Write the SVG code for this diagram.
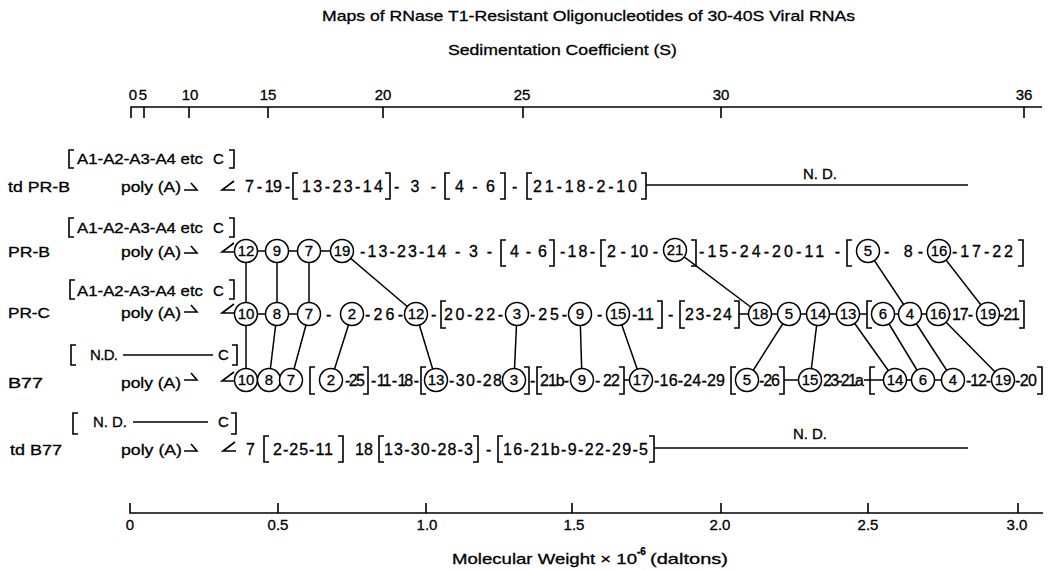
<svg xmlns="http://www.w3.org/2000/svg" width="1053" height="570" viewBox="0 0 1053 570">
<style>
text{font-family:"Liberation Sans",Arial,Helvetica,sans-serif;fill:#000;stroke:#000;stroke-width:0.3px}
.s{font-size:16px}
.lb{font-size:15px}
.ax{font-size:15px;text-anchor:middle}
.nd{font-size:14px}
.n circle{fill:#fff;stroke:#000;stroke-width:1.5}
.n text{font-size:15px;text-anchor:middle}
.br,.k{fill:none;stroke:#000;stroke-width:1.6}
#connectors line{stroke:#000;stroke-width:1.5}
</style>
<rect width="1053" height="570" fill="#fff"/>
<g id="titles">
<text class="lb" x="322" y="21" textLength="533" lengthAdjust="spacingAndGlyphs">Maps of RNase T1-Resistant Oligonucleotides of 30-40S Viral RNAs</text>
<text class="lb" x="448" y="55" textLength="229" lengthAdjust="spacingAndGlyphs">Sedimentation Coefficient (S)</text>
<text class="lb" x="452" y="564" textLength="185" lengthAdjust="spacingAndGlyphs">Molecular Weight × 10</text>
<text x="637" y="555" font-size="10" font-weight="bold">-6</text>
<text class="lb" x="650" y="564" textLength="78" lengthAdjust="spacingAndGlyphs">(daltons)</text>
</g>
<g id="axis-top">
<path class="k" d="M131,118 V107 H1042 M144,107 V118 M189,107 V118 M268,107 V118 M383,107 V118 M523,107 V118 M721,107 V118 M1024,107 V118"/>
<text class="ax" x="133" y="100">0</text><text class="ax" x="143" y="100">5</text><text class="ax" x="190" y="100">10</text><text class="ax" x="268" y="100">15</text><text class="ax" x="383" y="100">20</text><text class="ax" x="522" y="100">25</text><text class="ax" x="721" y="100">30</text><text class="ax" x="1024" y="100">36</text>
</g>
<g id="axis-bottom">
<path class="k" d="M130,503 V513 H1043 M278,513 V503 M426,513 V503 M572,513 V503 M721,513 V503 M868,513 V503 M1018,513 V503"/>
<text class="ax" x="130" y="530">0</text><text class="ax" x="278" y="530">0.5</text><text class="ax" x="427" y="530">1.0</text><text class="ax" x="574" y="530">1.5</text><text class="ax" x="720" y="530">2.0</text><text class="ax" x="868" y="530">2.5</text><text class="ax" x="1017" y="530">3.0</text>
</g>
<g id="connectors">
<line x1="246" y1="251" x2="342" y2="251"/>
<line x1="246" y1="314" x2="309" y2="314"/>
<line x1="739" y1="314" x2="867" y2="314"/>
<line x1="883" y1="314" x2="951" y2="314"/>
<line x1="246" y1="380" x2="291" y2="380"/>
<line x1="624" y1="380" x2="641" y2="380"/>
<line x1="784" y1="380" x2="810" y2="380"/>
<line x1="864" y1="380" x2="953" y2="380"/>
<line x1="246" y1="251" x2="246" y2="314"/>
<line x1="277" y1="251" x2="277" y2="314"/>
<line x1="309" y1="251" x2="309" y2="314"/>
<line x1="342" y1="251" x2="416" y2="314"/>
<line x1="675" y1="250" x2="760" y2="314"/>
<line x1="868" y1="251" x2="910" y2="314"/>
<line x1="939" y1="251" x2="988" y2="314"/>
<line x1="246" y1="314" x2="246" y2="380"/>
<line x1="277" y1="314" x2="269" y2="380"/>
<line x1="309" y1="314" x2="291" y2="380"/>
<line x1="352" y1="314" x2="331" y2="380"/>
<line x1="416" y1="314" x2="436" y2="380"/>
<line x1="517" y1="314" x2="514" y2="380"/>
<line x1="580" y1="314" x2="582" y2="380"/>
<line x1="618" y1="314" x2="641" y2="380"/>
<line x1="789" y1="314" x2="747" y2="380"/>
<line x1="818" y1="314" x2="810" y2="380"/>
<line x1="848" y1="314" x2="895" y2="380"/>
<line x1="883" y1="314" x2="923" y2="380"/>
<line x1="910" y1="314" x2="953" y2="380"/>
<line x1="938" y1="314" x2="1003" y2="380"/>
</g>
<g id="row-td-PR-B">
<text class="lb" x="8" y="192" textLength="62" lengthAdjust="spacingAndGlyphs">td PR-B</text>
<path class="br" d="M74,150 H69 V168 H74 M229,150 H234 V168 H229"/>
<text class="lb" x="77" y="164" textLength="126" lengthAdjust="spacingAndGlyphs">A1-A2-A3-A4 etc</text>
<text class="lb" x="213" y="164">C</text>
<text class="lb" x="121" y="192" textLength="60" lengthAdjust="spacingAndGlyphs">poly (A)</text>
<path class="k" d="M184,190 H197 L191,183 M234,181 L222,190 H235"/>
<path class="br" d="M298,173 H293 V199 H298 M385,173 H390 V199 H385 M450,173 H445 V199 H450 M500,173 H505 V199 H500 M532,173 H527 V199 H532 M641,173 H646 V199 H641"/>
<text class="s" x="245" y="192" textLength="45">7 - 19 -</text>
<text class="s" x="302" y="192" textLength="81">13-23-14</text>
<text class="s" x="394" y="192" textLength="42">- 3 -</text>
<text class="s" x="455" y="192" textLength="40">4 - 6</text>
<text class="s" x="512" y="192">-</text>
<text class="s" x="533" y="192" textLength="104">21-18-2-10</text>
<path class="k" d="M646,185 H968"/>
<text class="nd" x="803" y="179" textLength="34" lengthAdjust="spacingAndGlyphs">N. D.</text>
</g>
<g id="row-PR-B">
<text class="lb" x="8" y="257" textLength="42" lengthAdjust="spacingAndGlyphs">PR-B</text>
<path class="br" d="M74,218 H69 V237 H74 M229,218 H234 V237 H229"/>
<text class="lb" x="77" y="233" textLength="126" lengthAdjust="spacingAndGlyphs">A1-A2-A3-A4 etc</text>
<text class="lb" x="213" y="233">C</text>
<text class="lb" x="121" y="257" textLength="60" lengthAdjust="spacingAndGlyphs">poly (A)</text>
<path class="k" d="M184,253 H197 L191,246 M234,243 L222,252 H235"/>
<path class="br" d="M506,240 H501 V266 H506 M549,240 H554 V266 H549 M606,240 H601 V266 H606 M691,240 H696 V266 H691 M852,240 H847 V266 H852 M1018,240 H1023 V266 H1018"/>
<g class="n" id="PRB-12"><circle cx="246" cy="251" r="11.5"/><text x="246" y="256.3">12</text></g>
<g class="n" id="PRB-9"><circle cx="277" cy="251" r="11.5"/><text x="277" y="256.3">9</text></g>
<g class="n" id="PRB-7"><circle cx="309" cy="251" r="11.5"/><text x="309" y="256.3">7</text></g>
<g class="n" id="PRB-19"><circle cx="342" cy="251" r="11.5"/><text x="342" y="256.3">19</text></g>
<text class="s" x="360" y="257" textLength="132">-13-23-14 - 3 -</text>
<text class="s" x="510" y="257" textLength="37">4 - 6</text>
<text class="s" x="560" y="257" textLength="35">-18-</text>
<text class="s" x="607" y="257" textLength="51">2 - 10 -</text>
<g class="n" id="PRB-21"><circle cx="675" cy="250" r="11.5"/><text x="675" y="255.3">21</text></g>
<text class="s" x="699" y="257" textLength="141">-15-24-20-11 -</text>
<g class="n" id="PRB-5"><circle cx="868" cy="251" r="11.5"/><text x="868" y="256.3">5</text></g>
<text class="s" x="884" y="257" textLength="39">- 8-</text>
<g class="n" id="PRB-16"><circle cx="939" cy="251" r="11.5"/><text x="939" y="256.3">16</text></g>
<text class="s" x="952" y="257" textLength="61">-17-22</text>
</g>
<g id="row-PR-C">
<text class="lb" x="8" y="318" textLength="42" lengthAdjust="spacingAndGlyphs">PR-C</text>
<path class="br" d="M75,280 H70 V299 H75 M229,280 H234 V299 H229"/>
<text class="lb" x="77" y="296" textLength="126" lengthAdjust="spacingAndGlyphs">A1-A2-A3-A4 etc</text>
<text class="lb" x="213" y="296">C</text>
<text class="lb" x="121" y="318" textLength="60" lengthAdjust="spacingAndGlyphs">poly (A)</text>
<path class="k" d="M184,312 H197 L191,305 M234,304 L222,313 H235"/>
<path class="br" d="M446,301 H441 V328 H446 M657,301 H662 V328 H657 M685,301 H680 V328 H685 M734,301 H739 V328 H734 M872,301 H867 V328 H872 M1019,301 H1024 V328 H1019"/>
<g class="n" id="PRC-10"><circle cx="246" cy="314" r="11.5"/><text x="246" y="319.3">10</text></g>
<g class="n" id="PRC-8"><circle cx="277" cy="314" r="11.5"/><text x="277" y="319.3">8</text></g>
<g class="n" id="PRC-7"><circle cx="309" cy="314" r="11.5"/><text x="309" y="319.3">7</text></g>
<text class="s" x="326" y="320">-</text>
<g class="n" id="PRC-2"><circle cx="352" cy="314" r="11.5"/><text x="352" y="319.3">2</text></g>
<text class="s" x="365" y="320" textLength="38">-26-</text>
<g class="n" id="PRC-12"><circle cx="416" cy="314" r="11.5"/><text x="416" y="319.3">12</text></g>
<text class="s" x="431" y="320">-</text>
<text class="s" x="444" y="320" textLength="59">20-22-</text>
<g class="n" id="PRC-3"><circle cx="517" cy="314" r="11.5"/><text x="517" y="319.3">3</text></g>
<text class="s" x="530" y="320" textLength="37">-25-</text>
<g class="n" id="PRC-9"><circle cx="580" cy="314" r="11.5"/><text x="580" y="319.3">9</text></g>
<text class="s" x="597" y="320">-</text>
<g class="n" id="PRC-15"><circle cx="618" cy="314" r="11.5"/><text x="618" y="319.3">15</text></g>
<text class="s" x="632" y="320" textLength="22">-11</text>
<text class="s" x="668" y="320">-</text>
<text class="s" x="685" y="320" textLength="47">23-24</text>
<g class="n" id="PRC-18"><circle cx="760" cy="314" r="11.5"/><text x="760" y="319.3">18</text></g>
<g class="n" id="PRC-5"><circle cx="789" cy="314" r="11.5"/><text x="789" y="319.3">5</text></g>
<g class="n" id="PRC-14"><circle cx="818" cy="314" r="11.5"/><text x="818" y="319.3">14</text></g>
<g class="n" id="PRC-13"><circle cx="848" cy="314" r="11.5"/><text x="848" y="319.3">13</text></g>
<g class="n" id="PRC-6"><circle cx="883" cy="314" r="11.5"/><text x="883" y="319.3">6</text></g>
<g class="n" id="PRC-4"><circle cx="910" cy="314" r="11.5"/><text x="910" y="319.3">4</text></g>
<g class="n" id="PRC-16"><circle cx="938" cy="314" r="11.5"/><text x="938" y="319.3">16</text></g>
<text class="s" x="952" y="320" textLength="21">17-</text>
<g class="n" id="PRC-19"><circle cx="988" cy="314" r="11.5"/><text x="988" y="319.3">19</text></g>
<text class="s" x="999" y="320" textLength="21">-21</text>
</g>
<g id="row-B77">
<text class="lb" x="8" y="388" textLength="35" lengthAdjust="spacingAndGlyphs">B77</text>
<path class="br" d="M76,345 H71 V365 H76 M232,345 H237 V365 H232"/>
<text class="lb" x="90" y="360" textLength="28">N.D.</text>
<path class="k" d="M123,355 H213"/>
<text class="lb" x="218" y="360">C</text>
<text class="lb" x="121" y="388" textLength="60" lengthAdjust="spacingAndGlyphs">poly (A)</text>
<path class="k" d="M184,380 H197 L191,373 M234,372 L222,381 H235"/>
<path class="br" d="M315,367 H310 V394 H315 M363,367 H368 V394 H363 M426,367 H421 V394 H426 M524,367 H529 V394 H524 M542,367 H537 V394 H542 M619,367 H624 V394 H619 M736,367 H731 V394 H736 M779,367 H784 V394 H779 M875,367 H870 V394 H875 M1037,367 H1042 V394 H1037"/>
<g class="n" id="B77-10"><circle cx="246" cy="380" r="11.5"/><text x="246" y="385.3">10</text></g>
<g class="n" id="B77-8"><circle cx="269" cy="380" r="11.5"/><text x="269" y="385.3">8</text></g>
<g class="n" id="B77-7"><circle cx="291" cy="380" r="11.5"/><text x="291" y="385.3">7</text></g>
<g class="n" id="B77-2"><circle cx="331" cy="380" r="11.5"/><text x="331" y="385.3">2</text></g>
<text class="s" x="345" y="386" textLength="20">-25</text>
<text class="s" x="371" y="386" textLength="48">- 11 - 18 -</text>
<g class="n" id="B77-13"><circle cx="436" cy="380" r="11.5"/><text x="436" y="385.3">13</text></g>
<text class="s" x="449" y="386" textLength="53">-30-28</text>
<g class="n" id="B77-3"><circle cx="514" cy="380" r="11.5"/><text x="514" y="385.3">3</text></g>
<text class="s" x="530" y="386">-</text>
<text class="s" x="540" y="386" textLength="29">21b-</text>
<g class="n" id="B77-9"><circle cx="582" cy="380" r="11.5"/><text x="582" y="385.3">9</text></g>
<text class="s" x="595" y="386" textLength="25">- 22</text>
<g class="n" id="B77-17"><circle cx="641" cy="380" r="11.5"/><text x="641" y="385.3">17</text></g>
<text class="s" x="654" y="386" textLength="71">-16-24-29</text>
<g class="n" id="B77-5"><circle cx="747" cy="380" r="11.5"/><text x="747" y="385.3">5</text></g>
<text class="s" x="759" y="386" textLength="21">-26</text>
<g class="n" id="B77-15"><circle cx="810" cy="380" r="11.5"/><text x="810" y="385.3">15</text></g>
<text class="s" x="823" y="386" textLength="41">23-21a</text>
<g class="n" id="B77-14"><circle cx="895" cy="380" r="11.5"/><text x="895" y="385.3">14</text></g>
<g class="n" id="B77-6"><circle cx="923" cy="380" r="11.5"/><text x="923" y="385.3">6</text></g>
<g class="n" id="B77-4"><circle cx="953" cy="380" r="11.5"/><text x="953" y="385.3">4</text></g>
<text class="s" x="966" y="386" textLength="25">-12-</text>
<g class="n" id="B77-19"><circle cx="1003" cy="380" r="11.5"/><text x="1003" y="385.3">19</text></g>
<text class="s" x="1015" y="386" textLength="22">-20</text>
</g>
<g id="row-td-B77">
<text class="lb" x="10" y="455" textLength="52" lengthAdjust="spacingAndGlyphs">td B77</text>
<path class="br" d="M78,413 H73 V434 H78 M231,413 H236 V434 H231"/>
<text class="lb" x="93" y="427" textLength="34" lengthAdjust="spacingAndGlyphs">N. D.</text>
<path class="k" d="M133,422 H208"/>
<text class="lb" x="218" y="427">C</text>
<text class="lb" x="121" y="455" textLength="61" lengthAdjust="spacingAndGlyphs">poly (A)</text>
<path class="k" d="M184,451 H197 L191,444 M235,442 L223,451 H236"/>
<path class="br" d="M269,436 H264 V462 H269 M338,436 H343 V462 H338 M384,436 H379 V462 H384 M473,436 H478 V462 H473 M503,436 H498 V462 H503 M649,436 H654 V462 H649"/>
<text class="s" x="246" y="455">7</text>
<text class="s" x="273" y="455" textLength="60">2-25-11</text>
<text class="s" x="355" y="455">18</text>
<text class="s" x="384" y="455" textLength="89">13-30-28-3</text>
<text class="s" x="486" y="455">-</text>
<text class="s" x="503" y="455" textLength="145">16-21b-9-22-29-5</text>
<path class="k" d="M654,448 H968"/>
<text class="nd" x="793" y="439" textLength="34" lengthAdjust="spacingAndGlyphs">N. D.</text>
</g>
</svg>
